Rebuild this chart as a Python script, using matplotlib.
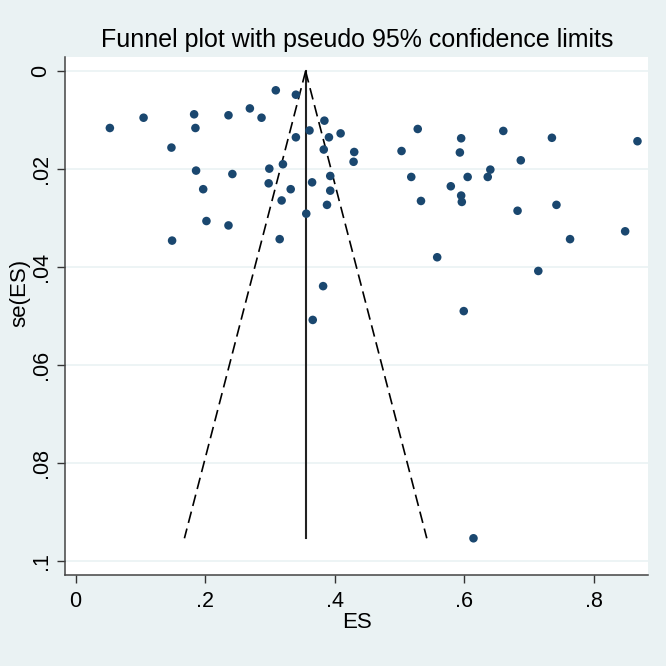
import numpy as np
import matplotlib
matplotlib.use("Agg")
import matplotlib.pyplot as plt

# effect sizes and their standard errors
ES = [0.053, 0.105, 0.183, 0.185, 0.236, 0.269, 0.287, 0.148, 0.186, 0.242,
      0.197, 0.202, 0.236, 0.149, 0.309, 0.340, 0.384, 0.361, 0.340, 0.391,
      0.409, 0.383, 0.430, 0.429, 0.503, 0.528, 0.299, 0.320, 0.298, 0.332,
      0.318, 0.365, 0.393, 0.393, 0.388, 0.356, 0.315, 0.518, 0.533, 0.579,
      0.595, 0.593, 0.595, 0.596, 0.558, 0.660, 0.735, 0.867, 0.687, 0.640,
      0.636, 0.605, 0.682, 0.742, 0.763, 0.848, 0.382, 0.366, 0.599, 0.714,
      0.614]
SE = [0.0116, 0.0095, 0.0088, 0.0116, 0.0090, 0.0076, 0.0095, 0.0156, 0.0203, 0.0210,
      0.0241, 0.0306, 0.0315, 0.0346, 0.0039, 0.0048, 0.0101, 0.0121, 0.0135, 0.0135,
      0.0127, 0.0160, 0.0165, 0.0185, 0.0163, 0.0118, 0.0199, 0.0190, 0.0229, 0.0241,
      0.0264, 0.0227, 0.0214, 0.0244, 0.0273, 0.0291, 0.0343, 0.0216, 0.0265, 0.0235,
      0.0137, 0.0166, 0.0254, 0.0267, 0.0380, 0.0122, 0.0136, 0.0143, 0.0182, 0.0201,
      0.0216, 0.0216, 0.0285, 0.0273, 0.0343, 0.0327, 0.0439, 0.0508, 0.0490, 0.0408,
      0.0954]
POOLED = 0.355
XTICKS = [0, 0.2, 0.4, 0.6, 0.8]
XTICKLABELS = ["0", ".2", ".4", ".6", ".8"]
YTICKS = [0, 0.02, 0.04, 0.06, 0.08, 0.1]
YTICKLABELS = ["0", ".02", ".04", ".06", ".08", ".1"]

BG = "#eaf2f3"
NAVY = "#1a476f"
plt.rcParams["font.family"] = ["Liberation Sans", "DejaVu Sans"]

fig = plt.figure(figsize=(6.66, 6.66), dpi=100, facecolor=BG)
ax = fig.add_axes([0.0983, 0.1359, 0.8754, 0.7785])
ax.set_facecolor("white")

# pooled estimate line and pseudo 95% limits
se_max = max(SE)
ax.plot([POOLED, POOLED], [0, se_max], color="#222222", lw=1.5, zorder=2)
for sign in (-1, 1):
    ax.plot([POOLED, POOLED + sign * 1.96 * se_max], [0, se_max], color="black",
            lw=1.2, ls=(0, (7, 3.5)), zorder=2)
ax.scatter(ES, SE, s=38, color=NAVY, edgecolors="none", zorder=3)

ax.set_xlim(-0.0155, 0.884)
ax.set_ylim(0.1030, -0.0029)
ax.set_yticks(YTICKS)
ax.set_yticklabels(YTICKLABELS, rotation=90, va="center")
ax.set_xticks(XTICKS)
ax.set_xticklabels(XTICKLABELS)
ax.tick_params(axis="both", labelsize=15.5, colors="#333333", labelcolor="black",
               length=6, width=1)
ax.tick_params(axis="x", pad=5)
ax.tick_params(axis="y", pad=4)
ax.grid(axis="y", color=BG, lw=1.2, zorder=0)
ax.set_axisbelow(True)
for s in ("top", "right"):
    ax.spines[s].set_visible(False)
for s in ("left", "bottom"):
    ax.spines[s].set_color("#444444")
    ax.spines[s].set_linewidth(1.1)

ax.set_xlabel("ES", fontsize=16, labelpad=0)
fig.text(20 / 666, 1 - 293 / 666, "se(ES)", rotation=90, fontsize=16,
         ha="center", va="center")
fig.text(357 / 666, 1 - 40 / 666, "Funnel plot with pseudo 95% confidence limits",
         fontsize=18, ha="center", va="center")

fig.savefig("out.png", dpi=100, facecolor=BG)
